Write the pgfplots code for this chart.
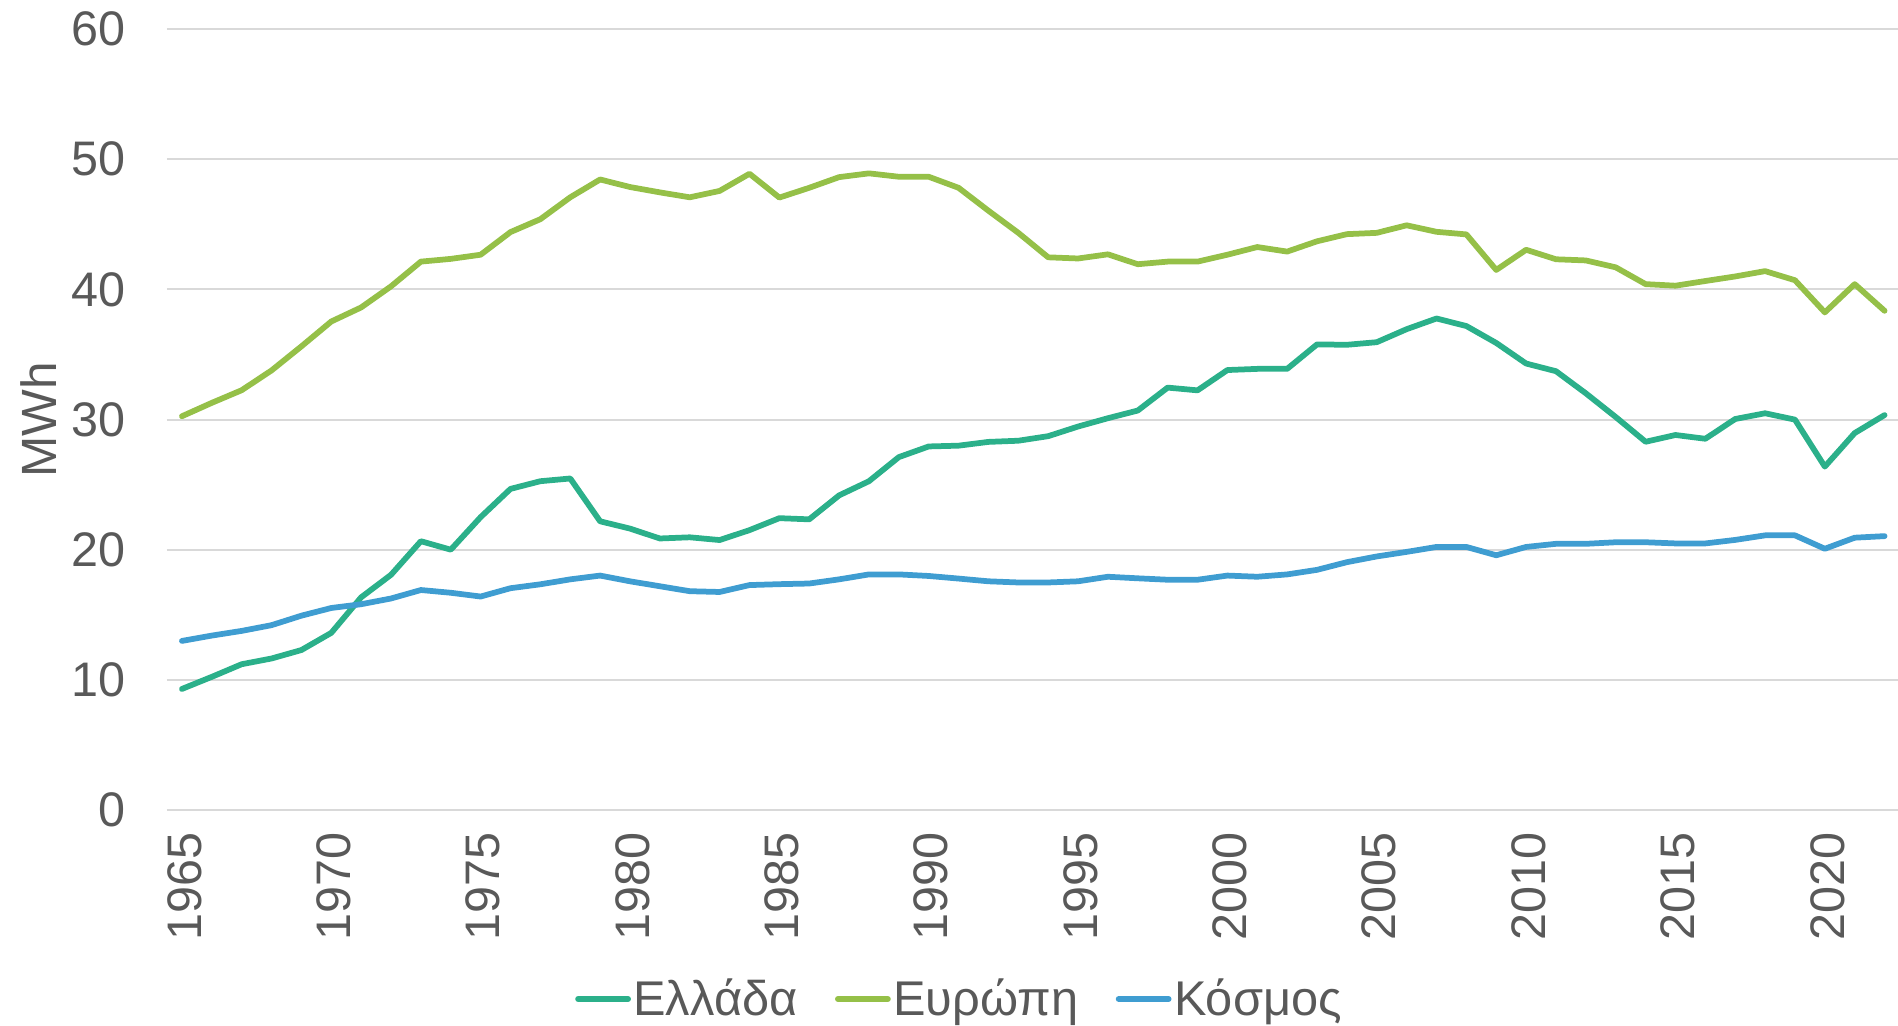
\documentclass[border=0pt]{standalone}
\usepackage{fontspec}
\setmainfont{Liberation Sans}
\usepackage{pgfplots}
\usepackage{pgfplotstable}
\pgfplotsset{compat=1.18}
\definecolor{cGR}{HTML}{2BB08A}
\definecolor{cEU}{HTML}{95C048}
\definecolor{cWO}{HTML}{3F9DD1}
\definecolor{cTxt}{HTML}{595959}
\definecolor{cGrid}{HTML}{D9D9D9}

\pgfplotstableread{
year gr eu wo
1965 9.30 30.25 12.99
1966 10.23 31.28 13.40
1967 11.20 32.25 13.76
1968 11.64 33.77 14.20
1969 12.29 35.62 14.93
1970 13.61 37.53 15.52
1971 16.34 38.61 15.81
1972 18.07 40.23 16.25
1973 20.65 42.13 16.90
1974 20.00 42.34 16.69
1975 22.50 42.66 16.40
1976 24.67 44.40 17.04
1977 25.26 45.39 17.34
1978 25.47 47.07 17.72
1979 22.18 48.44 18.01
1980 21.62 47.86 17.57
1981 20.86 47.45 17.19
1982 20.95 47.07 16.81
1983 20.74 47.56 16.75
1984 21.50 48.88 17.28
1985 22.42 47.05 17.35
1986 22.33 47.80 17.40
1987 24.17 48.62 17.72
1988 25.26 48.91 18.10
1989 27.11 48.65 18.10
1990 27.93 48.65 17.98
1991 27.99 47.80 17.78
1992 28.28 46.04 17.57
1993 28.37 44.34 17.48
1994 28.72 42.46 17.48
1995 29.46 42.37 17.57
1996 30.10 42.69 17.92
1997 30.69 41.93 17.80
1998 32.45 42.13 17.69
1999 32.24 42.13 17.69
2000 33.80 42.66 18.01
2001 33.89 43.25 17.92
2002 33.89 42.90 18.10
2003 35.77 43.69 18.45
2004 35.74 44.24 19.04
2005 35.94 44.34 19.48
2006 36.94 44.92 19.83
2007 37.76 44.42 20.21
2008 37.18 44.22 20.21
2009 35.88 41.49 19.57
2010 34.30 43.04 20.21
2011 33.71 42.31 20.45
2012 32.01 42.22 20.45
2013 30.19 41.69 20.57
2014 28.29 40.40 20.57
2015 28.81 40.28 20.48
2016 28.52 40.64 20.48
2017 30.04 40.99 20.75
2018 30.48 41.40 21.10
2019 29.99 40.70 21.10
2020 26.38 38.23 20.07
2021 28.96 40.40 20.92
2022 30.34 38.35 21.04
}\datatable

\begin{document}
\begin{tikzpicture}
\begin{axis}[
  at={(0,0)}, anchor=south west,
  scale only axis,
  width=692.4pt, height=312.4pt,
  xmin=1964.5, xmax=2022.45,
  ymin=0, ymax=60,
  ytick={0,10,...,60},
  xtick={1965,1970,...,2020},
  axis line style={draw=none},
  tick style={draw=none},
  ymajorgrids,
  major grid style={cGrid, line width=0.8pt},
  major tick length=0pt,
  tick label style={font=\fontsize{19.4}{21}\selectfont, text=cTxt},
  /pgf/number format/assume math mode=true,
  xticklabel={\pgfmathprintnumber[1000 sep={}]{\tick}},
  yticklabel style={anchor=east, xshift=-13pt},
  xticklabel style={rotate=90, anchor=east, yshift=-1pt, xshift=-5.5pt},
  ylabel={MWh},
  ylabel style={at={(axis description cs:-0.074,0.5)}, anchor=center, font=\fontsize{19.8}{21}\selectfont, text=cTxt},
  legend columns=3,
  legend style={at={(0.458,-0.242)}, anchor=center, draw=none, fill=none,
    font=\fontsize{19.5}{21}\selectfont, text=cTxt,
    /tikz/every even column/.append style={column sep=14pt},
    nodes={inner sep=1pt}},
  legend image code/.code={\draw[#1, line width=2.3pt, line cap=round] (0pt,0pt) -- (20pt,0pt);},
  every axis plot/.append style={line width=2.3pt, line join=round, line cap=round},
]
\addplot[cGR] table[x=year, y=gr] {\datatable};
\addlegendentry{Ελλάδα}
\addplot[cEU] table[x=year, y=eu] {\datatable};
\addlegendentry{Ευρώπη}
\addplot[cWO] table[x=year, y=wo] {\datatable};
\addlegendentry{Κόσμος}
\end{axis}
\pgfresetboundingbox
\path[use as bounding box] (-66.8pt,-86pt) rectangle (692.4pt,324pt);
\end{tikzpicture}
\end{document}
